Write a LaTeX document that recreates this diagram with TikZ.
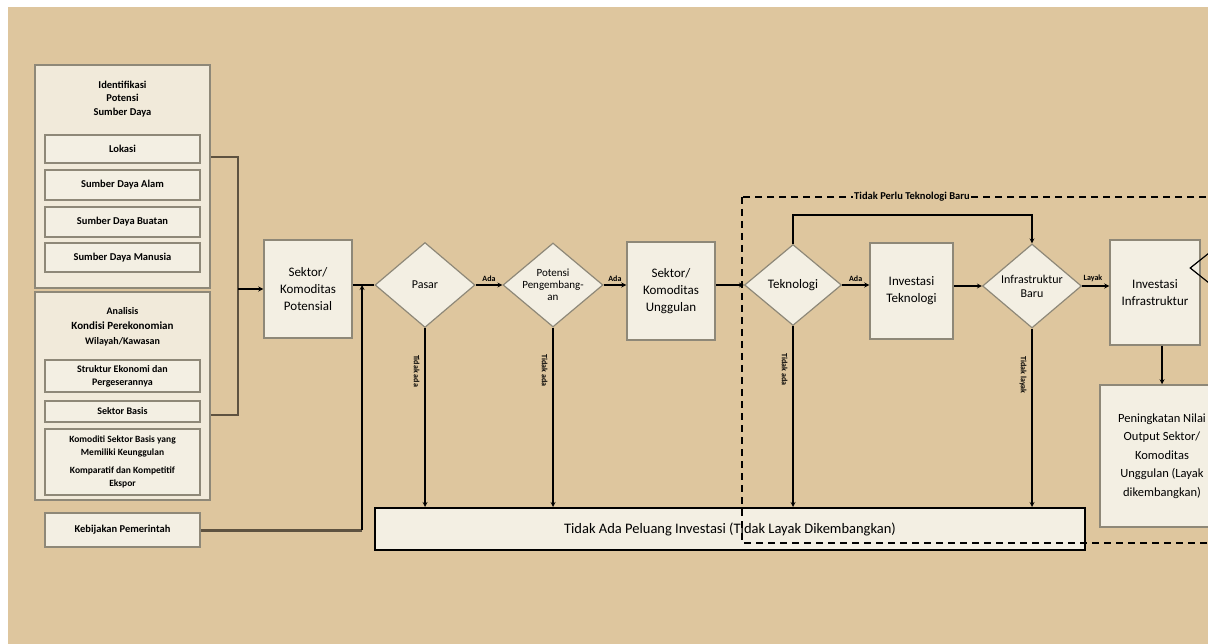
\documentclass[tikz,border=0pt]{standalone}
\usepackage{fontspec}
\setmainfont{Carlito}
\usetikzlibrary{shapes.geometric}
\definecolor{bgtan}{HTML}{DEC69E}
\definecolor{cream}{HTML}{F3EFE3}
\definecolor{panelcream}{HTML}{F1EADA}
\definecolor{edgegray}{HTML}{8E8878}
\definecolor{linebrown}{HTML}{5E5240}
\tikzset{
  panel/.style={draw=edgegray, fill=panelcream, line width=1.5pt, minimum width=175pt},
  item/.style={draw=edgegray, fill=cream, line width=1.5pt, minimum width=155pt, align=center,
    inner sep=1pt, font=\fontsize{10.5}{12}\selectfont\bfseries},
  box/.style={draw=edgegray, fill=cream, line width=1.5pt, align=center, inner sep=1pt,
    font=\fontsize{13}{17}\selectfont},
  decision/.style={diamond, draw=edgegray, fill=cream, line width=1.2pt, align=center,
    inner sep=0pt, font=\fontsize{12}{14}\selectfont},
  flow/.style={-stealth, line width=1.2pt},
  tag/.style={font=\fontsize{8}{9}\selectfont\bfseries},
}
\begin{document}
\begin{tikzpicture}[x=1pt,y=-1pt]
  \useasboundingbox (0,0) rectangle (1208,644);
  \clip (0,0) rectangle (1208,644);
  \fill[white] (0,0) rectangle (1208,644);
  \fill[bgtan] (8,7) rectangle (1208,644);
  % left panels
  \node[panel, minimum height=223pt] (sd) at (122.5,176.5) {};
  \node[font=\fontsize{10.5}{13.5}\selectfont\bfseries, align=center] (sdtitle) at (122.5,99) {Identifikasi\\Potensi\\Sumber Daya};
  \node[item, minimum height=28pt] (lokasi) at (122.5,149) {Lokasi};
  \node[item, minimum height=30pt] (sda) at (122.5,185) {Sumber Daya Alam};
  \node[item, minimum height=30pt] (sdb) at (122.5,222) {Sumber Daya Buatan};
  \node[item, minimum height=29pt] (sdm) at (122.5,257.5) {Sumber Daya Manusia};
  \node[panel, minimum height=208pt] (ekon) at (122.5,396) {};
  \node[font=\fontsize{10}{15}\selectfont\bfseries, align=center] (ekontitle) at (122.5,327)
    {Analisis\\{\fontsize{11}{15}\selectfont Kondisi Perekonomian}\\Wilayah/Kawasan};
  \node[item, minimum height=32pt, font=\fontsize{10}{13}\selectfont\bfseries] (struktur) at (122.5,376) {Struktur Ekonomi dan\\Pergeserannya};
  \node[item, minimum height=21pt, font=\fontsize{10}{12}\selectfont\bfseries] (basis) at (122.5,411.5) {Sektor Basis};
  \node[item, minimum height=66pt, font=\fontsize{9.5}{13}\selectfont\bfseries] (komoditi) at (122.5,462)
    {Komoditi Sektor Basis yang\\Memiliki Keunggulan\\[5pt]Komparatif dan Kompetitif\\Ekspor};
  \node[item, minimum height=34pt] (kebijakan) at (122.5,530) {Kebijakan Pemerintah};
  % main flow
  \node[box, minimum width=88pt, minimum height=98pt] (potensial) at (308,289) {Sektor/\\Komoditas\\Potensial};
  \node[decision, minimum width=100pt, minimum height=85pt] (pasar) at (425,285) {Pasar};
  \node[decision, minimum width=100pt, minimum height=84pt, inner sep=-7pt, font=\fontsize{11}{12}\selectfont] (potensi) at (553,285) {Potensi\\Pengembang-\\an};
  \node[box, minimum width=88pt, minimum height=98pt] (unggulan) at (671,291) {Sektor/\\Komoditas\\Unggulan};
  \node[decision, minimum width=97pt, minimum height=81pt, font=\fontsize{13}{14}\selectfont] (teknologi) at (793,285) {Teknologi};
  \node[box, minimum width=83pt, minimum height=96pt] (invtek) at (911.5,291) {Investasi\\Teknologi};
  \node[decision, minimum width=99pt, minimum height=83pt] (infra) at (1032,286) {Infrastruktur\\Baru};
  \node[box, minimum width=90pt, minimum height=105pt] (invinfra) at (1155,292.5) {Investasi\\Infrastruktur};
  \node[diamond, draw=black, line width=1.2pt, minimum width=100pt, minimum height=80pt] (lanjut) at (1240,268) {};
  \node[box, minimum width=124pt, minimum height=142pt, font=\fontsize{12.5}{18.5}\selectfont] (output) at (1162,456)
    {Peningkatan Nilai\\Output Sektor/\\Komoditas\\Unggulan (Layak\\dikembangkan)};
  \node[box, draw=black, line width=2pt, minimum width=710pt, minimum height=42pt, font=\fontsize{14.5}{16}\selectfont] (tidak) at (730,529)
    {Tidak Ada Peluang Investasi (Tidak Layak Dikembangkan)};
  % bracket
  \coordinate (brtop) at (238,157);
  \coordinate (brbot) at (238,415);
  \coordinate (brmid) at (238,289);
  \draw[linebrown, line width=1.5pt] (sd.east |- brtop) -- (brtop) -- (brbot) -- (ekon.east |- brbot);
  \draw[flow] (brmid) -- (potensial.west);
  \coordinate (join) at (362,285);
  \draw[linebrown, line width=3pt] (kebijakan.east) -- (join |- kebijakan.east);
  \draw[flow] (join |- kebijakan.east) -- (join);
  \draw[line width=1.2pt] (potensial.east |- pasar.west) -- (pasar.west);
  \draw[flow] (pasar.east) -- node[above, tag] {Ada} (potensi.west);
  \draw[flow] (potensi.east) -- node[above, tag] {Ada} (potensi.east -| unggulan.west);
  \draw[flow] (unggulan.east |- teknologi.west) -- (teknologi.west);
  \draw[flow] (teknologi.east) -- node[above, tag] {Ada} (teknologi.east -| invtek.west);
  \draw[flow] (invtek.east |- infra.west) -- (infra.west);
  \draw[flow] (infra.east) -- node[above, tag, pos=0.4] {Layak} (infra.east -| invinfra.west);
  \draw[flow] (invinfra.south -| output.north) -- (output.north);
  \coordinate (loop) at (1032,215);
  \draw[flow] (teknologi.north) |- (loop) -- (infra.north);
  % to no-investment box
  \draw[flow] (pasar.south) -- node[pos=0.24, rotate=-90, anchor=north, inner sep=5pt, tag] {Tidak ada} (pasar.south |- tidak.north);
  \draw[flow] (potensi.south) -- node[pos=0.24, rotate=-90, anchor=north, inner sep=5pt, tag] {Tidak ada} (potensi.south |- tidak.north);
  \draw[flow] (teknologi.south) -- node[pos=0.24, rotate=-90, anchor=north, inner sep=5pt, tag] {Tidak ada} (teknologi.south |- tidak.north);
  \draw[flow] (infra.south) -- node[pos=0.26, rotate=-90, anchor=north, inner sep=5pt, tag] {Tidak layak} (infra.south |- tidak.north);
  % dashed region
  \draw[dashed, line width=1.5pt, dash pattern=on 7pt off 5pt] (742,197) rectangle (1240,543);
  \node[fill=bgtan, inner sep=1pt, font=\fontsize{10.5}{12}\selectfont\bfseries] (baru) at (912,197) {Tidak Perlu Teknologi Baru};
\end{tikzpicture}
\end{document}
